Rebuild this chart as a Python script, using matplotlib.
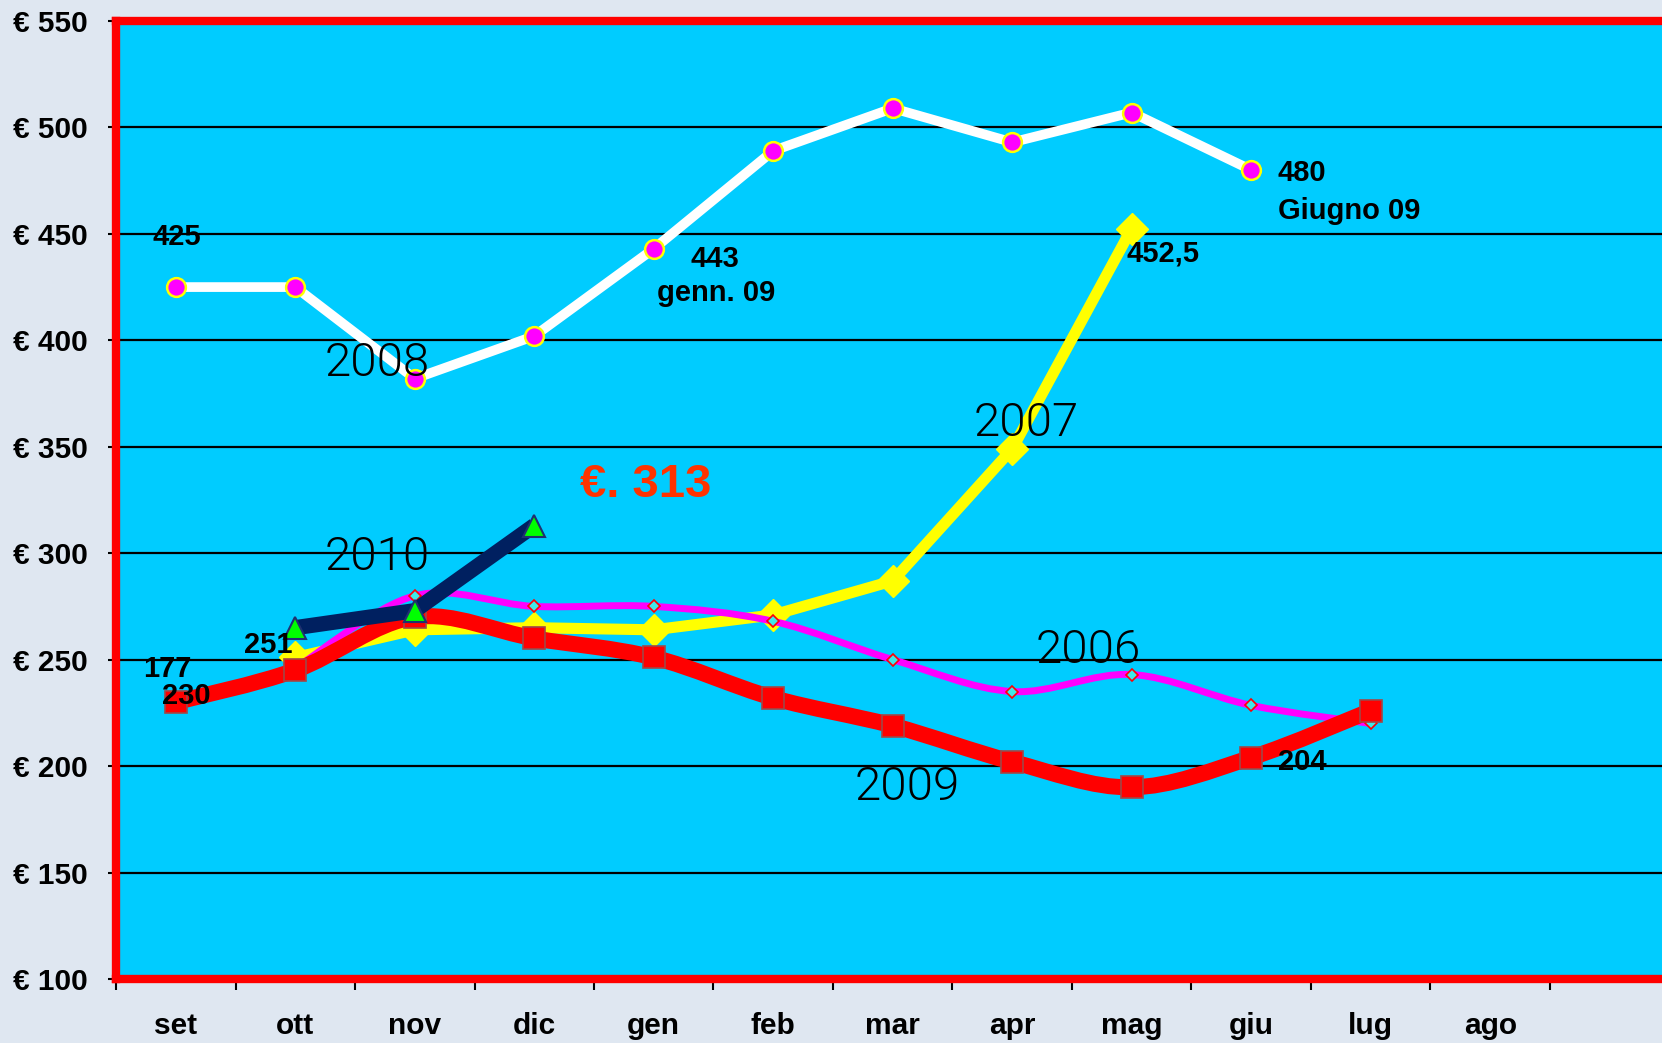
import numpy as np
import matplotlib
matplotlib.use("Agg")
import matplotlib.pyplot as plt
from matplotlib.path import Path
from matplotlib.patches import PathPatch

# mesi (set..ago) + uno spazio vuoto a destra
mesi = ["set", "ott", "nov", "dic", "gen", "feb", "mar", "apr", "mag", "giu", "lug", "ago"]

# 2008 (bianca)
x2008 = [0, 1, 2, 3, 4, 5, 6, 7, 8, 9]
y2008 = [425, 425, 382, 402, 443, 489, 509, 493, 507, 480]
# 2007 (gialla)
x2007 = [1, 2, 3, 4, 5, 6, 7, 8]
y2007 = [251, 264, 265, 264, 271, 287, 349, 452.5]
# 2006 (magenta, smussata)
x2006 = [1, 2, 3, 4, 5, 6, 7, 8, 9, 10]
y2006 = [246, 280, 275, 275, 268, 250, 235, 243, 228.5, 220]
# 2009 (rossa, smussata)
x2009 = [0, 1, 2, 3, 4, 5, 6, 7, 8, 9, 10]
y2009 = [230, 245, 270, 260, 251, 232, 219, 202, 190, 204, 226]
# 2010 (blu)
x2010 = [1, 2, 3]
y2010 = [265, 273, 313]

yticks = [100, 150, 200, 250, 300, 350, 400, 450, 500, 550]


def curva(ax, xs, ys, **kw):
    # curva smussata tipo Excel (bezier cubica)
    p = np.column_stack([xs, ys]).astype(float)
    ext = np.vstack([p[0], p, p[-1]])
    verts = [tuple(p[0])]
    codes = [Path.MOVETO]
    for i in range(len(p) - 1):
        c1 = ext[i + 1] + (ext[i + 2] - ext[i]) / 6.0
        c2 = ext[i + 2] - (ext[i + 3] - ext[i + 1]) / 6.0
        verts += [tuple(c1), tuple(c2), tuple(p[i + 1])]
        codes += [Path.CURVE4] * 3
    patch = PathPatch(Path(verts, codes), facecolor="none", capstyle="round", joinstyle="round", **kw)
    ax.add_patch(patch)


fig = plt.figure(figsize=(16.62, 10.43), dpi=100)
fig.patch.set_facecolor("#dfe7f1")
ax = fig.add_axes([0.0698, 0.0614, 0.9347, 0.9185])
ax.set_facecolor("#00ccff")
ax.set_xlim(-0.5, 12.5)
ax.set_ylim(100, 550)

for s in ax.spines.values():
    s.set_color("red")
    s.set_linewidth(6)

ax.set_yticks(yticks)
ax.set_yticklabels(["€ %d" % v for v in yticks], fontsize=21.5, fontweight="bold", family="Liberation Sans")
ax.tick_params(axis="y", direction="out", length=6, width=1.5, color="black", pad=14)
ax.yaxis.grid(True, color="black", linewidth=1.6)
ax.set_axisbelow(True)

ax.set_xticks(np.arange(-0.5, 12.6, 1))
ax.set_xticklabels([])
ax.tick_params(axis="x", which="major", direction="out", length=8, width=1.5, color="black")
ax.set_xticks(range(len(mesi)), minor=True)
ax.set_xticklabels(mesi, minor=True, fontsize=21.5, fontweight="bold", family="Liberation Sans")
ax.tick_params(axis="x", which="minor", length=0, pad=24)

# 2007
ax.plot(x2007, y2007, color="#ffff00", lw=8, marker="D", ms=16, mfc="#ffff00", mec="#ffff00", zorder=3)
# 2006
curva(ax, x2006, y2006, edgecolor="#ff00ff", lw=5, zorder=4)
ax.plot(x2006[1:], y2006[1:], ls="none", marker="D", ms=6, mfc="#40e8e8", mec="red", mew=1.2, zorder=4)
# 2009
curva(ax, x2009, y2009, edgecolor="red", lw=11.5, zorder=5)
ax.plot(x2009, y2009, ls="none", marker="s", ms=16, mfc="red", mec="#a04848", mew=1.2, zorder=5)
# 2008
ax.plot(x2008, y2008, color="white", lw=7, marker="o", ms=13.5, mfc="#ff00ff", mec="#ffff00", mew=1.8, zorder=6)
# 2010
ax.plot(x2010, y2010, color="#002060", lw=11, marker="^", ms=16, mfc="#00ff00", mec="#203070", mew=1.5,
        solid_capstyle="butt", zorder=7)

# etichette valori
num = dict(fontsize=21, fontweight="bold", family="Liberation Sans", color="black", va="center", zorder=9)
ax.text(0.01, 448.3, "425", ha="center", **num)
ax.text(4.31, 438.4, "443", ha="left", **num)
ax.text(4.03, 422, "genn. 09", ha="left", **num)
ax.text(9.22, 478.7, "480", ha="left", **num)
ax.text(9.22, 460.8, "Giugno 09", ha="left", **num)
ax.text(7.96, 440.9, "452,5", ha="left", **num)
ax.text(0.57, 256.7, "251", ha="left", **num)
ax.text(-0.27, 245.7, "177", ha="left", **num)
ax.text(-0.115, 232.8, "230", ha="left", **num)
ax.text(9.22, 202, "204", ha="left", **num)
ax.text(3.38, 331.8, "€. 313", ha="left", va="center", fontsize=34, fontweight="bold",
        family="Liberation Sans", color="#ff3300", zorder=9)

# nomi delle serie
nome = dict(fontsize=34, fontweight=300, family=["Roboto", "DejaVu Sans"], color="black",
            ha="left", va="center", zorder=9)
ax.text(1.244, 389.5, "2008", **nome)
ax.text(1.244, 298, "2010", **nome)
ax.text(6.68, 361.2, "2007", **nome)
ax.text(7.195, 254.7, "2006", **nome)
ax.text(5.68, 190.4, "2009", **nome)

fig.savefig("out.png", dpi=100, facecolor=fig.get_facecolor())
